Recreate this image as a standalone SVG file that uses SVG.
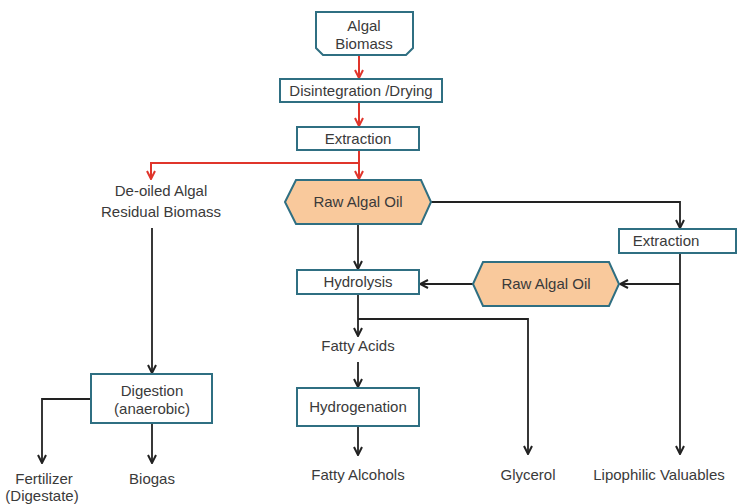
<svg xmlns="http://www.w3.org/2000/svg" width="737" height="504" viewBox="0 0 737 504">
  <style>
    .box { fill: #ffffff; stroke: #2f6f82; stroke-width: 2; }
    .oil { fill: #f9c99c; stroke: #2f6f82; stroke-width: 2; }
    .t { font-family: "Liberation Sans", Arial, sans-serif; font-size: 15px; fill: #3a3a3a; text-anchor: middle; }
    .red { fill: none; stroke: #e0352b; stroke-width: 2; }
    .blk { fill: none; stroke: #222222; stroke-width: 1.8; }
  </style>
  <defs>
    <marker id="ar" viewBox="0 0 10 10" refX="9" refY="5" markerWidth="10" markerHeight="10" markerUnits="userSpaceOnUse" orient="auto">
      <polyline points="1,1 9,5 1,9" fill="none" stroke="#e0352b" stroke-width="2"/>
    </marker>
    <marker id="ab" viewBox="0 0 10 10" refX="9" refY="5" markerWidth="10" markerHeight="10" markerUnits="userSpaceOnUse" orient="auto">
      <polyline points="1,1 9,5 1,9" fill="none" stroke="#222222" stroke-width="2"/>
    </marker>
  </defs>
  <rect width="737" height="504" fill="#ffffff"/>

  <g id="connectors">
    <!-- red: primary processing chain -->
    <path class="red" d="M359,55 V78" marker-end="url(#ar)"/>
    <path class="red" d="M359,102 V126" marker-end="url(#ar)"/>
    <path class="red" d="M359,150 V179" marker-end="url(#ar)"/>
    <path class="red" d="M359,163 H151 V179" marker-end="url(#ar)"/>
    <!-- black: downstream routes -->
    <path class="blk" d="M152,228 V373" marker-end="url(#ab)"/>
    <path class="blk" d="M91,399 H42 V463" marker-end="url(#ab)"/>
    <path class="blk" d="M152,423 V463" marker-end="url(#ab)"/>
    <path class="blk" d="M358,224 V269" marker-end="url(#ab)"/>
    <path class="blk" d="M431,202 H680 V228" marker-end="url(#ab)"/>
    <path class="blk" d="M680,253 V454" marker-end="url(#ab)"/>
    <path class="blk" d="M680,284 H620" marker-end="url(#ab)"/>
    <path class="blk" d="M473,284 H420" marker-end="url(#ab)"/>
    <path class="blk" d="M358,294 V336" marker-end="url(#ab)"/>
    <path class="blk" d="M358,319 H528 V454" marker-end="url(#ab)"/>
    <path class="blk" d="M358,362 V387" marker-end="url(#ab)"/>
    <path class="blk" d="M358,426 V455" marker-end="url(#ab)"/>
  </g>

  <g id="algal-biomass">
    <path class="box" d="M316,12 H413 V48 L406,55 H323 L316,48 Z"/>
    <text class="t" x="364" y="31">Algal</text>
    <text class="t" x="364" y="49">Biomass</text>
  </g>

  <g id="disintegration">
    <rect class="box" x="280" y="79" width="162" height="23"/>
    <text class="t" x="361" y="96">Disintegration /Drying</text>
  </g>

  <g id="extraction-1">
    <rect class="box" x="297" y="127" width="122" height="23"/>
    <text class="t" x="358" y="144">Extraction</text>
  </g>

  <g id="residual-biomass">
    <text class="t" x="161" y="196">De-oiled Algal</text>
    <text class="t" x="161" y="217">Residual Biomass</text>
  </g>

  <g id="raw-oil-1">
    <polygon class="oil" points="285,202 296,180 421,180 431,202 421,224 296,224"/>
    <text class="t" x="358" y="207">Raw Algal Oil</text>
  </g>

  <g id="extraction-2">
    <rect class="box" x="619" y="229" width="117" height="24"/>
    <text class="t" x="666" y="246">Extraction</text>
  </g>

  <g id="raw-oil-2">
    <polygon class="oil" points="473,284 483,262 609,262 619,284 609,306 483,306"/>
    <text class="t" x="546" y="289">Raw Algal Oil</text>
  </g>

  <g id="hydrolysis">
    <rect class="box" x="297" y="270" width="122" height="24"/>
    <text class="t" x="358" y="287">Hydrolysis</text>
  </g>

  <g id="fatty-acids">
    <text class="t" x="358" y="351">Fatty Acids</text>
  </g>

  <g id="hydrogenation">
    <rect class="box" x="297" y="388" width="122" height="38"/>
    <text class="t" x="358" y="412">Hydrogenation</text>
  </g>

  <g id="digestion">
    <rect class="box" x="91" y="374" width="121" height="49"/>
    <text class="t" x="152" y="396">Digestion</text>
    <text class="t" x="152" y="414">(anaerobic)</text>
  </g>

  <g id="fertilizer">
    <text class="t" x="44" y="484">Fertilizer</text>
    <text class="t" x="42" y="501">(Digestate)</text>
  </g>

  <g id="biogas">
    <text class="t" x="152" y="484">Biogas</text>
  </g>

  <g id="fatty-alcohols">
    <text class="t" x="358" y="480">Fatty Alcohols</text>
  </g>

  <g id="glycerol">
    <text class="t" x="528" y="480">Glycerol</text>
  </g>

  <g id="lipophilic">
    <text class="t" x="659" y="480">Lipophilic  Valuables</text>
  </g>
</svg>
